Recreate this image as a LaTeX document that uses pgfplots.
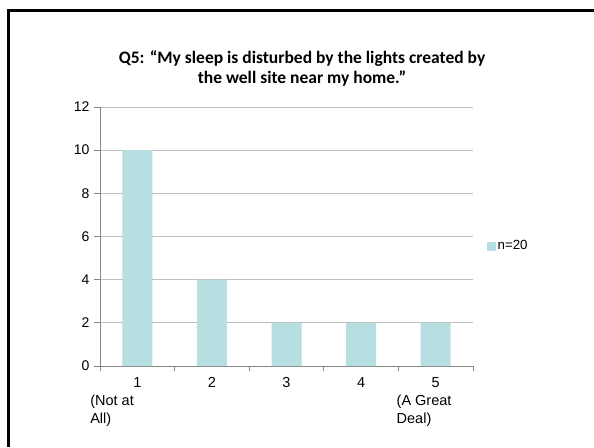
\documentclass[border=0pt]{standalone}
\usepackage{pgfplots}
\pgfplotsset{compat=1.18}
\usepackage{fontspec}
\setmainfont{Liberation Sans}
\newfontfamily\titlefont{Carlito}
\definecolor{barcol}{RGB}{183,222,225}
\definecolor{axgray}{RGB}{134,134,134}
\definecolor{gridgray}{RGB}{190,190,190}
\newcommand\lblA{\hspace*{-4pt}\parbox[t]{90pt}{\baselineskip=18pt\centering\hspace*{4pt}1\par\raggedright (Not at\\All)}}
\newcommand\lblE{\parbox[t]{78pt}{\baselineskip=18pt\centering 5\par\raggedright (A Great\\Deal)}}
\begin{document}
\begin{tikzpicture}
\useasboundingbox (0,0) rectangle (594pt,-447pt);
\draw[line width=3pt,black] (8.5pt,-447pt) -- (8.5pt,-10.5pt) -- (594pt,-10.5pt);
\node[font=\titlefont\bfseries\fontsize{17.5}{21}\selectfont,anchor=base] at (302pt,-63pt) {Q5: “My sleep is disturbed by the lights created by};
\node[font=\titlefont\bfseries\fontsize{17.5}{21}\selectfont,anchor=base] at (302pt,-83pt) {the well site near my home.”};
\begin{axis}[
  at={(100pt,-366pt)}, anchor=south west,
  scale only axis, width=373pt, height=259pt,
  xmin=0.5, xmax=5.5, ymin=0, ymax=12,
  ytick={0,2,...,12},
  xtick={1,2,3,4,5},
  xticklabels={{\lblA},2,3,4,{\lblE}},
  minor xtick={0.5,1.5,...,5.5},
  x tick style={draw=none},
  minor x tick style={draw=axgray, line width=0.8pt},
  y tick style={draw=axgray, line width=0.8pt},
  tick align=outside,
  major tick length=6pt, minor tick length=5pt,
  axis x line*=bottom, axis y line*=left,
  axis line style={draw=axgray, line width=0.8pt, -},
  ymajorgrids, major grid style={draw=gridgray, line width=0.8pt},
  /pgf/number format/assume math mode=true,
  yticklabel style={font=\fontsize{14}{17}\selectfont, xshift=-1pt},
  xticklabel style={anchor=north, yshift=-2pt, font=\fontsize{14.5}{18}\selectfont},
  legend style={at={(1.036,0.463)}, anchor=west, draw=none, fill=none,
    font=\fontsize{13.3}{16}\selectfont, inner xsep=0pt,
    legend cell align=left},
  legend image code/.code={\fill[barcol] (0pt,-4.5pt) rectangle (9pt,4.5pt);},
]
\addplot[ybar, bar width=30pt, fill=barcol, draw=none] coordinates {(1,10) (2,4) (3,2) (4,2) (5,2)};
\addlegendentry{n=20}
\end{axis}
\end{tikzpicture}
\end{document}
